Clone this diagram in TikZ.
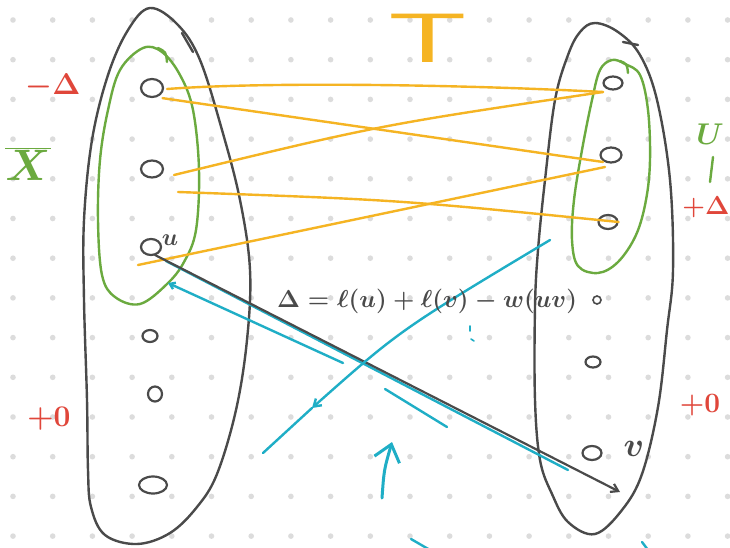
\RequirePackage{fix-cm}
\documentclass[tikz,border=0pt]{standalone}
\usepackage{xcolor}
\usepackage{tikz}
\usetikzlibrary{shapes.geometric, arrows.meta, calc}
\definecolor{pen}{HTML}{4A4A4A}
\definecolor{setgreen}{HTML}{6BAA3F}
\definecolor{treeorange}{HTML}{F5B423}
\definecolor{labelred}{HTML}{E0463A}
\definecolor{slackcyan}{HTML}{1FAEC6}
\definecolor{griddot}{HTML}{DCDCDC}
\newcommand{\fsz}[1]{\fontsize{#1}{#1}\selectfont\boldmath}

\begin{document}
\begin{tikzpicture}[x=1pt, y=-1pt,
  vtx/.style={ellipse, draw=pen, line width=2.2pt, inner sep=0pt},
  setline/.style={draw=pen, line width=2.4pt, line cap=round, line join=round},
  subset/.style={draw=setgreen, line width=2.4pt, line cap=round},
  tedge/.style={draw=treeorange, line width=2.4pt, line cap=round},
  slack/.style={draw=slackcyan, line width=2.4pt, line cap=round},
  barb/.style={-{Straight Barb[length=7pt, width=9pt]}},
  redlab/.style={text=labelred, inner sep=0pt},
  greenlab/.style={text=setgreen, inner sep=0pt}
]
\useasboundingbox (0,0) rectangle (730,548);
\fill[white] (0,0) rectangle (730,548);

% dotted paper
\foreach \i in {0,...,18}
  \foreach \j in {0,...,13}
    \fill[griddot] (13+39.7*\i, 20+39.7*\j) circle (2.8pt);

% the two sides
\draw[setline] plot[smooth cycle, tension=0.6] coordinates {
  (150,8) (178,25) (200,60) (222,130) (240,200) (250,270) (247,340)
  (236,410) (217,474) (197,507) (170,533) (137,544) (105,535) (91,507)
  (88,470) (87,400) (84,300) (84,220) (92,140) (108,75) (128,30)};
\draw[setline] (182,33) -- (193,52);
\draw[setline] plot[smooth cycle, tension=0.6] coordinates {
  (595,23) (618,32) (640,55) (657,100) (670,180) (673,270) (667,330)
  (658,407) (642,474) (622,510) (595,534) (568,522) (552,494) (540,460)
  (535,400) (535,307) (538,250) (545,180) (555,100) (568,55) (580,32)};
\draw[setline] (623,42) -- (638,45);

% X-bar and U
\draw[subset] plot[smooth cycle, tension=0.6] coordinates {
  (143,48) (162,52) (180,75) (193,110) (199,170) (196,230) (184,262)
  (167,284) (140,304) (115,297) (102,275) (98,220) (100,160) (108,110)
  (120,70)};
\draw[subset] (158,48) .. controls (166,52) .. (167,62);
\draw[subset] plot[smooth cycle, tension=0.6] coordinates {
  (612,60) (625,64) (640,75) (648,110) (650,160) (646,200) (636,235)
  (618,262) (598,273) (578,266) (572,240) (574,200) (582,150) (592,100)
  (600,70)};
\draw[subset] (620,61) .. controls (627,64) .. (628,73);

% vertices
\node[vtx, minimum width=22pt, minimum height=18pt] (l1) at (152,88) {};
\node[vtx, minimum width=22pt, minimum height=17pt] (l2) at (152,169) {};
\node[vtx, minimum width=20pt, minimum height=16pt] (lu) at (151,247) {};
\node[vtx, minimum width=15pt, minimum height=12pt] (l4) at (150,336) {};
\node[vtx, minimum width=14pt, minimum height=15pt] (l5) at (155,394) {};
\node[vtx, minimum width=28pt, minimum height=17pt] (l6) at (153,485) {};
\node[vtx, minimum width=19pt, minimum height=13pt] (r1) at (613,83) {};
\node[vtx, minimum width=21pt, minimum height=15pt] (r2) at (611,155) {};
\node[vtx, minimum width=19pt, minimum height=14pt] (r3) at (608,222) {};
\node[vtx, minimum width=8pt, minimum height=8pt, line width=1.6pt] (r4) at (597,300) {};
\node[vtx, minimum width=15pt, minimum height=11pt] (r5) at (593,362) {};
\node[vtx, minimum width=19pt, minimum height=14pt] (rv) at (592,453) {};
\node[text=pen, inner sep=0pt, font=\fsz{24}] (ulab) at (170,240) {$u$};
\node[text=pen, inner sep=0pt, font=\fsz{34}] (vlab) at (634,449) {$v$};

% tree T
\node[text=treeorange, inner sep=0pt, font=\fsz{70}\sffamily] (tlab) at (428,38) {\scalebox{1.8}[1]{T}};
\draw[tedge] ($(l1.east)+(3,1)$) .. controls (260,82) and (450,84) .. ($(r1)+(-10,9)$);
\draw[tedge] ($(l1.south east)+(2,3)$) -- ($(r2)+(-8,7)$);
\draw[tedge] ($(l2)+(22,6)$) .. controls (380,125) .. ($(r1)+(-10,9)$);
\draw[tedge] ($(l2)+(26,23)$) .. controls (400,200) .. (r3.east);
\draw[tedge] ($(lu)+(-13,18)$) -- ($(r2)+(-6,12)$);

% slack
\draw[slack] ($(lu)+(15,14)$) -- ($(rv)+(-24,17)$);
\draw[pen, line width=2.2pt, line cap=round, barb] ($(lu)+(4,8)$) -- ($(rv)+(28,39)$);
\coordinate (ca1) at (343,363);
\coordinate (ca2) at (168,283);
\draw[slack, -{Straight Barb[length=5pt, width=7pt]}] (ca1) -- (ca2);
\coordinate (cb1) at (550,240);
\coordinate (cb3) at (312,408);
\coordinate (cb4) at (263,453);
\draw[slack, barb] (cb1) .. controls (400,330) .. (cb3);
\draw[slack] (cb3) -- (cb4);
\draw[slack] (385,389) -- (447,427);
\draw[slack, line width=3pt, -{Straight Barb[length=16pt, width=26pt]}] (382,498) .. controls (384,470) .. (392,442);
\draw[slack, line width=1.6pt] (470,326) -- (470,331) (471,339) -- (474,341);
\draw[slack] (411,539) -- (430,550);
\draw[slack] (642,542) -- (648,550);

\node[text=pen, inner sep=0pt, font=\fsz{24.5}] (slackeq) at (427,301)
  {$\Delta = \ell(u)+\ell(v)-w(uv)$};

% labels of the sides
\node[redlab, font=\fsz{30}] (minusd) at (53,86) {$-\Delta$};
\node[greenlab, font=\fsz{44}] (xbar) at (28,164) {$\overline{X}$};
\node[greenlab, font=\fsz{30}] (ulabel) at (710,134) {$U$};
\draw[subset] (713,157) -- (710,182);
\node[redlab, font=\fsz{26}] (plusd) at (706,207) {$+\Delta$};
\node[redlab, font=\fsz{30}] (zerol) at (49,419) {$+0$};
\node[redlab, font=\fsz{28}] (zeror) at (700,405) {$+0$};

\end{tikzpicture}
\end{document}
